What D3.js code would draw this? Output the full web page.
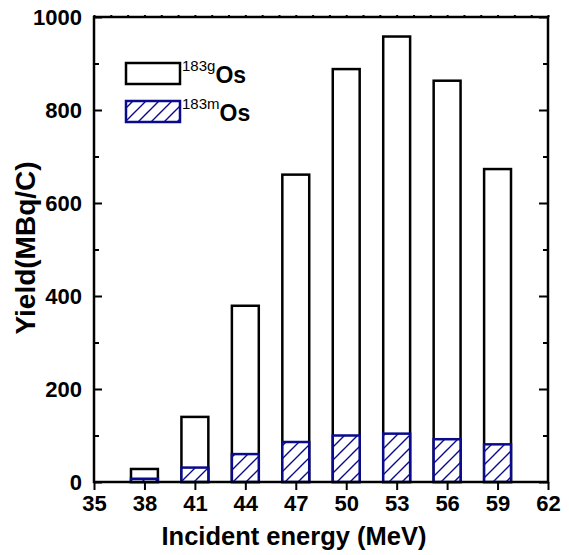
<!DOCTYPE html>
<html><head><meta charset="utf-8">
<script src="https://cdn.jsdelivr.net/npm/d3@7"></script>
<style>body{margin:0;background:#fff}svg{display:block}text{font-family:"Liberation Sans",Arial,sans-serif;font-weight:bold}</style>
</head><body>
<svg id="c" width="569" height="555"></svg>
<script>
const energies = [38, 41, 44, 47, 50, 53, 56, 59];
const yieldG = [28, 140, 379, 661, 888, 958, 863, 673];
const yieldM = [7, 31, 60, 86, 100, 104, 92, 81];
const xTicks = [35, 38, 41, 44, 47, 50, 53, 56, 59, 62];
const yTicks = [0, 200, 400, 600, 800, 1000];
const yMinor = [100, 300, 500, 700, 900];

(function () {
const svg = d3.select("#c");
const L = 94, R = 548, T = 17, B = 482;
const x = d3.scaleLinear().domain([35, 62]).range([L, R]);
const y = d3.scaleLinear().domain([0, 1000]).range([B, T]);
const barW = x(36.6) - x(35);
const navy = "#0a0a8c";
const FF = '"Liberation Sans",Arial,sans-serif';

const defs = svg.append("defs");
const pat = defs.append("pattern").attr("id", "hatch").attr("patternUnits", "userSpaceOnUse")
  .attr("width", 13).attr("height", 13);
pat.append("rect").attr("width", 13).attr("height", 13).attr("fill", "#fff");
pat.append("path").attr("d", "M-3,16 L16,-3 M-3,3 L3,-3 M10,16 L16,10")
  .attr("stroke", navy).attr("stroke-width", 1.4);

// bars
const g = svg.append("g");
g.selectAll("rect.g").data(energies).enter().append("rect")
  .attr("x", (d) => x(d) - barW / 2).attr("width", barW)
  .attr("y", (d, i) => y(yieldG[i])).attr("height", (d, i) => y(0) - y(yieldG[i]))
  .attr("fill", "#fff").attr("stroke", "#000").attr("stroke-width", 2.5);
g.selectAll("rect.m").data(energies).enter().append("rect")
  .attr("x", (d) => x(d) - barW / 2).attr("width", barW)
  .attr("y", (d, i) => y(yieldM[i])).attr("height", (d, i) => y(0) - y(yieldM[i]))
  .attr("fill", "url(#hatch)").attr("stroke", navy).attr("stroke-width", 2.5);

// axes
const ax = svg.append("g");
ax.append("g").attr("transform", `translate(0,${B})`)
  .call(d3.axisBottom(x).tickValues(xTicks).tickSize(8).tickPadding(5));
ax.append("g").attr("transform", `translate(${L},0)`)
  .call(d3.axisLeft(y).tickValues(yTicks).tickSize(-8).tickPadding(12).tickFormat(d3.format("d")));
ax.append("g").attr("transform", `translate(${L},0)`)
  .call(d3.axisLeft(y).tickValues(yMinor).tickSize(-5).tickFormat(""));
ax.append("g").attr("transform", `translate(${R},0)`)
  .call(d3.axisRight(y).tickValues(yTicks).tickSize(-9).tickFormat(""));
ax.append("g").attr("transform", `translate(${R},0)`)
  .call(d3.axisRight(y).tickValues(yMinor).tickSize(-5).tickFormat(""));
ax.append("g").attr("transform", `translate(0,${T})`)
  .call(d3.axisTop(x).tickValues(d3.range(35, 63)).tickSize(2).tickFormat(""));

ax.selectAll(".domain").remove();
ax.selectAll(".tick line").attr("stroke", "#000").attr("stroke-width", 2);
ax.selectAll(".tick text").attr("font-size", 22).attr("font-weight", "bold")
  .attr("font-family", FF).attr("fill", "#000");

svg.append("rect").attr("x", L).attr("y", T).attr("width", R - L).attr("height", B - T)
  .attr("fill", "none").attr("stroke", "#000").attr("stroke-width", 2.5);

// titles
svg.append("text").attr("x", 294).attr("y", 545).attr("text-anchor", "middle")
  .attr("font-size", 25.5).text("Incident energy (MeV)");
svg.append("text").attr("transform", `translate(35,248) rotate(-90)`)
  .attr("text-anchor", "middle").attr("font-size", 28).text("Yield(MBq/C)");

// legend
const leg = svg.append("g");
const legItems = [
  {sup: "183g", fill: "#fff", stroke: "#000", y0: 63},
  {sup: "183m", fill: "url(#hatch)", stroke: navy, y0: 101}
];
legItems.forEach((it) => {
  leg.append("rect").attr("x", 126).attr("y", it.y0).attr("width", 54).attr("height", 21)
    .attr("fill", it.fill).attr("stroke", it.stroke).attr("stroke-width", 2.5);
  const t = leg.append("text").attr("x", 182).attr("y", it.y0 + 20).attr("font-size", 23);
  t.append("tspan").attr("font-size", 15).attr("font-weight", "normal").attr("dy", -12).text(it.sup);
  t.append("tspan").attr("dy", 12).text("Os");
});
})();
</script>
</body></html>
